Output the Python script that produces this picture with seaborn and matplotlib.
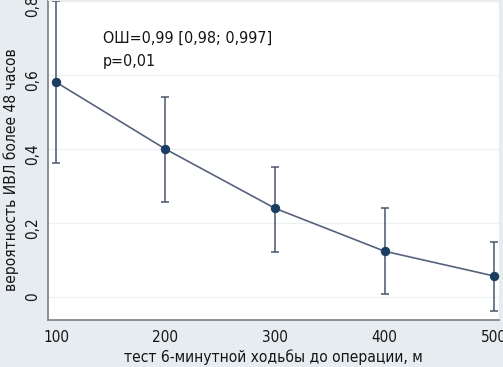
import seaborn as sns
import matplotlib.pyplot as plt
import matplotlib.transforms as mtransforms
import pandas as pd

# тест 6-минутной ходьбы (м) и вероятность ИВЛ > 48 ч с 95% ДИ
distance = [100, 200, 300, 400, 500]
prob = [0.581, 0.400, 0.240, 0.124, 0.057]
ci_low = [0.362, 0.257, 0.122, 0.008, -0.038]
ci_high = [0.800, 0.542, 0.351, 0.240, 0.149]

y_ticks = [0, 0.2, 0.4, 0.6, 0.8]
y_tick_labels = ["0", "0,2", "0,4", "0,6", "0,8"]
x_ticks = [100, 200, 300, 400, 500]

df = pd.DataFrame({"dist": distance, "p": prob, "lo": ci_low, "hi": ci_high})

sns.set_style("white")
plt.rcParams["font.family"] = ["DejaVu Sans"]
plt.rcParams["font.stretch"] = "condensed"
plt.rcParams["text.color"] = "#151515"
plt.rcParams["axes.labelcolor"] = "#151515"
plt.rcParams["xtick.labelcolor"] = "#151515"
plt.rcParams["ytick.labelcolor"] = "#151515"

bg = "#e6ecf0"
fig = plt.figure(figsize=(5.03, 3.67), dpi=100, facecolor=bg)
ax = fig.add_axes([0.0954, 0.128, 0.8966, 0.872])
ax.set_facecolor("white")

for y in y_ticks:
    ax.axhline(y, color="#eef1f3", lw=1.0, zorder=0)

yerr = [df["p"] - df["lo"], df["hi"] - df["p"]]
ax.errorbar(df["dist"], df["p"], yerr=yerr, fmt="none", ecolor="#4a566c",
            elinewidth=1.1, capsize=3, capthick=1.1, zorder=2, clip_on=False)
sns.lineplot(data=df, x="dist", y="p", ax=ax, color="#56637a", lw=1.2,
             marker="o", markersize=6, markerfacecolor="#1c3d62",
             markeredgecolor="#1c3d62", zorder=3, clip_on=False)

ax.set_xlim(92.7, 504.5)
ax.set_ylim(-0.062, 0.803)
ax.set_xticks(x_ticks)
ax.set_xticklabels([str(x) for x in x_ticks], fontsize=11)
ax.set_yticks(y_ticks)
ax.set_yticklabels(y_tick_labels, fontsize=11, rotation=90, va="center")
ax.tick_params(axis="both", length=4, width=0.8, color="#666666", direction="out")
ax.tick_params(axis="y", pad=2)
shift = mtransforms.ScaledTranslation(0, -0.05, fig.dpi_scale_trans)
for lab in ax.get_yticklabels():
    if "," in lab.get_text():
        lab.set_transform(lab.get_transform() + shift)

for s in ["top", "right"]:
    ax.spines[s].set_color("#e8ecef")
for s in ["left", "bottom"]:
    ax.spines[s].set_color("#7a7f86")
    ax.spines[s].set_linewidth(1.2)

ax.set_xlabel("тест 6-минутной ходьбы до операции, м", fontsize=11.2, labelpad=3)
ax.set_ylabel("вероятность ИВЛ более 48 часов", fontsize=11.2, labelpad=4, y=0.469)

ax.text(142.9, 0.686, "ОШ=0,99 [0,98; 0,997]", fontsize=11.5, va="baseline")
ax.text(142.9, 0.624, "p=0,01", fontsize=11.5, va="baseline")

fig.savefig("out.png", dpi=100, facecolor=bg)
